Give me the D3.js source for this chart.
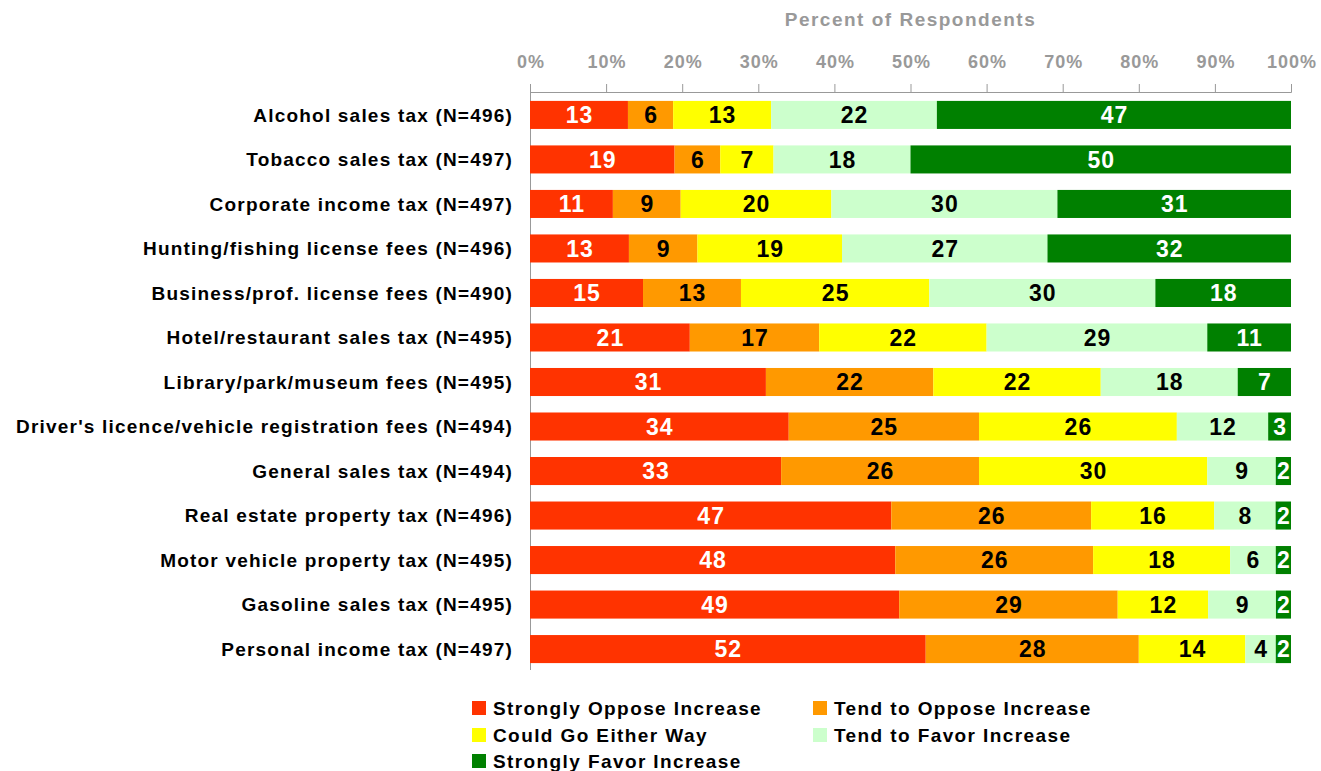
<!DOCTYPE html>
<html>
<head>
<meta charset="utf-8">
<script src="https://cdn.jsdelivr.net/npm/d3@7"></script>
<style>
  body { margin: 0; background: #fff; }
  svg { display: block; font-family: "Liberation Sans", Arial, sans-serif; }
  .axis path, .axis line { stroke: #999; }
</style>
</head>
<body>
<svg width="1321" height="771"></svg>
<script>
// categories, top to bottom
var categories = [
  "Alcohol sales tax (N=496)",
  "Tobacco sales tax (N=497)",
  "Corporate income tax (N=497)",
  "Hunting/fishing license fees (N=496)",
  "Business/prof. license fees (N=490)",
  "Hotel/restaurant sales tax (N=495)",
  "Library/park/museum fees (N=495)",
  "Driver's licence/vehicle registration fees (N=494)",
  "General sales tax (N=494)",
  "Real estate property tax (N=496)",
  "Motor vehicle property tax (N=495)",
  "Gasoline sales tax (N=495)",
  "Personal income tax (N=497)"
];

var seriesNames = [
  "Strongly Oppose Increase",
  "Tend to Oppose Increase",
  "Could Go Either Way",
  "Tend to Favor Increase",
  "Strongly Favor Increase"
];

// series values (percent)
var stronglyOppose = [13, 19, 11, 13, 15, 21, 31, 34, 33, 47, 48, 49, 52];
var tendOppose     = [6, 6, 9, 9, 13, 17, 22, 25, 26, 26, 26, 29, 28];
var eitherWay      = [13, 7, 20, 19, 25, 22, 22, 26, 30, 16, 18, 12, 14];
var tendFavor      = [22, 18, 30, 27, 30, 29, 18, 12, 9, 8, 6, 9, 4];
var stronglyFavor  = [47, 50, 31, 32, 18, 11, 7, 3, 2, 2, 2, 2, 2];

var tickLabels = ["0%", "10%", "20%", "30%", "40%", "50%", "60%", "70%", "80%", "90%", "100%"];

var colors = ["#FF3300", "#FF9900", "#FFFF00", "#CCFFCC", "#008000"];
var textColors = ["#fff", "#000", "#000", "#000", "#fff"];

var seriesValues = [stronglyOppose, tendOppose, eitherWay, tendFavor, stronglyFavor];

// rows normalised to 100% (rounded values don't always add to 100)
var rows = categories.map(function(c, i) {
  var r = { name: c };
  var total = 0;
  seriesValues.forEach(function(s) { total += s[i]; });
  seriesNames.forEach(function(k, j) { r[k] = seriesValues[j][i] / total * 100; r["_" + k] = seriesValues[j][i]; });
  return r;
});

var margin = { top: 92, left: 530 };
var width = 761;
var height = 580;

var svg = d3.select("svg");
var g = svg.append("g").attr("transform", "translate(" + margin.left + "," + margin.top + ")");

var x = d3.scaleLinear().domain([0, 100]).range([0, width]);
var y = d3.scaleBand().domain(categories).range([0, height]).paddingInner(0.37).paddingOuter(0.2);

var stacked = d3.stack().keys(seriesNames)(rows);

// x axis at top
var xAxis = g.append("g")
    .attr("class", "x axis")
    .call(d3.axisTop(x).tickValues(d3.range(0, 101, 10)).tickSize(8).tickPadding(16)
      .tickFormat(function(d, i) { return tickLabels[i]; }));
xAxis.select(".domain").attr("d", "M0.5,-8V0.5H" + (width + 0.5) + "V-8");
xAxis.selectAll("text")
    .attr("fill", "#999")
    .attr("dx", "0.5px")
    .style("font-size", "18px")
    .style("letter-spacing", "1px")
    .style("font-weight", "bold");

// y axis line
g.append("line")
    .attr("x1", 0.5).attr("x2", 0.5)
    .attr("y1", 0).attr("y2", height - 2)
    .attr("stroke", "#999");

// title
svg.append("text")
    .attr("x", margin.left + width / 2)
    .attr("y", 26)
    .attr("text-anchor", "middle")
    .attr("fill", "#999")
    .style("font-size", "19px")
    .style("letter-spacing", "1.5px")
    .style("font-weight", "bold")
    .text("Percent of Respondents");

// category labels
g.selectAll(".cat")
    .data(categories)
  .enter().append("text")
    .attr("class", "cat")
    .attr("x", -17)
    .attr("y", function(d) { return y(d) + y.bandwidth() / 2; })
    .attr("dy", "0.36em")
    .attr("text-anchor", "end")
    .style("font-size", "19px")
    .style("letter-spacing", "1.2px")
    .style("font-weight", "bold")
    .text(function(d) { return d; });

// bars
var layers = g.selectAll(".layer")
    .data(stacked)
  .enter().append("g")
    .attr("class", "layer")
    .attr("fill", function(d, i) { return colors[i]; });

layers.selectAll("rect")
    .data(function(d) { return d; })
  .enter().append("rect")
    .attr("x", function(d) { return x(d[0]); })
    .attr("y", function(d) { return y(d.data.name); })
    .attr("width", function(d) { return x(d[1]) - x(d[0]); })
    .attr("height", y.bandwidth());

// value labels
layers.each(function(layer, i) {
  d3.select(this).selectAll("text")
      .data(layer)
    .enter().append("text")
      .attr("x", function(d) { return (x(d[0]) + x(d[1])) / 2 + 0.5; })
      .attr("y", function(d) { return y(d.data.name) + y.bandwidth() / 2; })
      .attr("dy", "0.36em")
      .attr("text-anchor", "middle")
      .attr("fill", textColors[i])
      .style("font-size", "23px")
      .style("letter-spacing", "1px")
      .style("font-weight", "bold")
      .text(function(d) { return d.data["_" + layer.key]; });
});

// legend
var legendPos = [[472, 708], [813, 708], [472, 735], [813, 735], [472, 761]];
var legend = svg.selectAll(".legend")
    .data(seriesNames)
  .enter().append("g")
    .attr("class", "legend")
    .attr("transform", function(d, i) { return "translate(" + legendPos[i][0] + "," + legendPos[i][1] + ")"; });

legend.append("rect")
    .attr("x", 0).attr("y", -7)
    .attr("width", 14).attr("height", 14)
    .attr("fill", function(d, i) { return colors[i]; });

legend.append("text")
    .attr("x", 21)
    .attr("dy", "0.36em")
    .style("font-size", "19px")
    .style("letter-spacing", "1.4px")
    .style("font-weight", "bold")
    .text(function(d) { return d; });
</script>
</body>
</html>
